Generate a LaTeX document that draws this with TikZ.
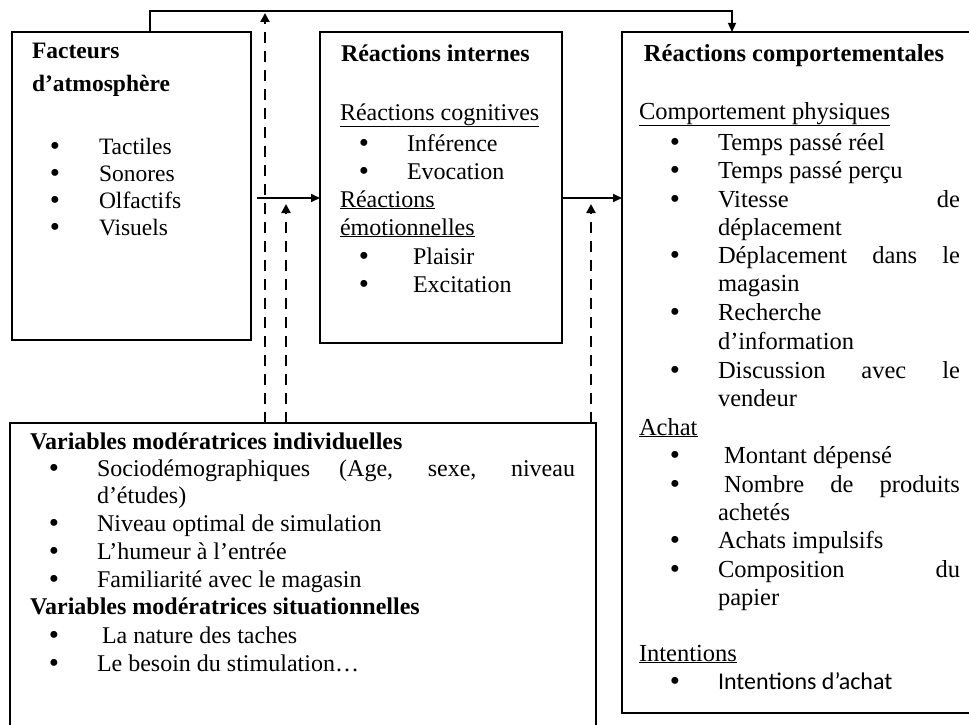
\documentclass[tikz,border=0pt]{standalone}
\usepackage{fontspec}
\setmainfont{Liberation Serif}
\newfontfamily\calfont{Carlito}
\usetikzlibrary{arrows.meta,calc}
\newcommand\bulglyph{\smash{\raisebox{-1.3pt}{\fontsize{29}{29}\selectfont\textbullet}}}

\begin{document}
\begin{tikzpicture}[x=1pt,y=-1pt,
  box/.style={draw,line width=1.5pt,inner sep=0pt,outer sep=0pt},
  tx/.style={anchor=base west,inner sep=0pt,outer sep=0pt,font=\fontsize{24}{28}\selectfont},
  txl/.style={tx,font=\fontsize{23.5}{27}\selectfont},
  txr/.style={tx,font=\fontsize{24.5}{28}\selectfont},
  bul/.style={anchor=base,inner sep=0pt,outer sep=0pt,font=\fontsize{24}{28}\selectfont},
  conn/.style={line width=1.3pt},
  arr/.style={line width=2pt,-{Triangle[length=9pt,width=8pt]}},
  dasharr/.style={line width=2.6pt,dash pattern=on 11pt off 8pt,-{Triangle[length=9pt,width=9pt]}}
]
\clip (0,0) rectangle (969,725);

% boxes
\node[box,minimum width=239pt,minimum height=308pt] (left) at (131.5,186) {};
\node[box,minimum width=242pt,minimum height=311pt] (mid) at (441,187.5) {};
\node[box,minimum width=352pt,minimum height=681pt] (right) at (798,372.5) {};
\node[box,minimum width=586pt,minimum height=320pt] (bot) at (303,583) {};

% left box text
\node[txl] (lh1) at (32,59) {\textbf{Facteurs}};
\node[txl] (lh2) at (32,92) {\textbf{d’atmosphère}};
\foreach \yy/\tt [count=\i] in {154/Tactiles,181/Sonores,208/Olfactifs,235/Visuels}{
  \node[bul] (lb\i) at (55,\yy) {\bulglyph};
  \node[txl] (lt\i) at (99,\yy) {\tt};
}

% middle box text
\node[tx] (mh) at (341,62) {\textbf{Réactions internes}};
\node[tx] (mc) at (340,120) {\underline{Réactions cognitives}};
\node[bul] (mb1) at (364,151) {\bulglyph};
\node[tx] (mt1) at (407,151) {Inférence};
\node[bul] (mb2) at (364,179) {\bulglyph};
\node[tx] (mt2) at (407,179) {Evocation};
\node[tx] (me1) at (340,207) {\underline{Réactions}};
\node[tx] (me2) at (340,235) {\underline{émotionnelles}};
\node[bul] (mb3) at (364,264) {\bulglyph};
\node[tx] (mt3) at (413,264) {Plaisir};
\node[bul] (mb4) at (364,292) {\bulglyph};
\node[tx] (mt4) at (413,292) {Excitation};

% right box text
\node[anchor=base,inner sep=0pt,font=\fontsize{24.5}{28}\selectfont] (rh) at (794,62) {\textbf{Réactions comportementales}};
\node[txr] (rc) at (639,119) {\underline{Comportement physiques}};
\node[bul] (rb1) at (675,150) {\bulglyph};
\node[txr] (rt1) at (718,150) {Temps passé réel};
\node[bul] (rb2) at (675,178) {\bulglyph};
\node[txr] (rt2) at (718,178) {Temps passé perçu};
\node[bul] (rb3) at (675,207) {\bulglyph};
\node[txr] (rt3) at (718,207) {\makebox[242pt][s]{Vitesse de}};
\node[txr] (rt3b) at (718,235) {déplacement};
\node[bul] (rb4) at (675,263) {\bulglyph};
\node[txr] (rt4) at (718,263) {\makebox[242pt][s]{Déplacement dans le}};
\node[txr] (rt4b) at (718,291) {magasin};
\node[bul] (rb5) at (675,320) {\bulglyph};
\node[txr] (rt5) at (718,320) {Recherche};
\node[txr] (rt5b) at (718,349) {d’information};
\node[bul] (rb6) at (675,378) {\bulglyph};
\node[txr] (rt6) at (718,378) {\makebox[242pt][s]{Discussion avec le}};
\node[txr] (rt6b) at (718,406) {vendeur};
\node[txr] (ra) at (639,435) {\underline{Achat}};
\node[bul] (rb7) at (675,463) {\bulglyph};
\node[txr] (rt7) at (724,463) {Montant dépensé};
\node[bul] (rb8) at (675,492) {\bulglyph};
\node[txr] (rt8) at (724,492) {\makebox[236pt][s]{Nombre de produits}};
\node[txr] (rt8b) at (718,520) {achetés};
\node[bul] (rb9) at (675,548) {\bulglyph};
\node[txr] (rt9) at (718,548) {Achats impulsifs};
\node[bul] (rb10) at (675,577) {\bulglyph};
\node[txr] (rt10) at (718,577) {\makebox[242pt][s]{Composition du}};
\node[txr] (rt10b) at (718,605) {papier};
\node[txr] (ri) at (639,661) {\underline{Intentions}};
\node[bul] (rb11) at (675,689) {\bulglyph};
\node[tx,font=\calfont\fontsize{24}{28}\selectfont] (rt11) at (718,689) {Intentions d’achat};

% bottom box text
\node[tx] (bh1) at (30,449) {\textbf{Variables modératrices individuelles}};
\node[bul] (bb1) at (54,476) {\bulglyph};
\node[tx] (bt1) at (97,476) {\makebox[478pt][s]{Sociodémographiques (Age, sexe, niveau}};
\node[tx] (bt1b) at (97,503) {d’études)};
\node[bul] (bb2) at (54,531) {\bulglyph};
\node[tx] (bt2) at (97,531) {Niveau optimal de simulation};
\node[bul] (bb3) at (54,559) {\bulglyph};
\node[tx] (bt3) at (97,559) {L’humeur à l’entrée};
\node[bul] (bb4) at (54,587) {\bulglyph};
\node[tx] (bt4) at (97,587) {Familiarité avec le magasin};
\node[tx] (bh2) at (30,614) {\textbf{Variables modératrices situationnelles}};
\node[bul] (bb5) at (54,643) {\bulglyph};
\node[tx] (bt5) at (102,643) {La nature des taches};
\node[bul] (bb6) at (54,671) {\bulglyph};
\node[tx] (bt6) at (97,671) {Le besoin du stimulation…};

% connectors
\coordinate (c1) at (150,11);
\coordinate (c2) at (732,11);
\draw[conn,-{Triangle[length=9pt,width=8pt]}] (left.north -| c1) -- (c1) -- (c2) -- (right.north -| c2);

\coordinate (h1) at (257,198);
\draw[arr] (h1) -- (h1 -| mid.west);
\coordinate (h2) at (mid.east |- h1);
\draw[arr] (h2) -- (h2 -| right.west);

\coordinate (d1) at (265,13);
\coordinate (d2) at (286,204);
\coordinate (d3) at (591,204);
\draw[dasharr] (bot.north -| d1) -- (d1);
\draw[dasharr] (bot.north -| d2) -- (d2);
\draw[dasharr] (bot.north -| d3) -- (d3);
\end{tikzpicture}
\end{document}
